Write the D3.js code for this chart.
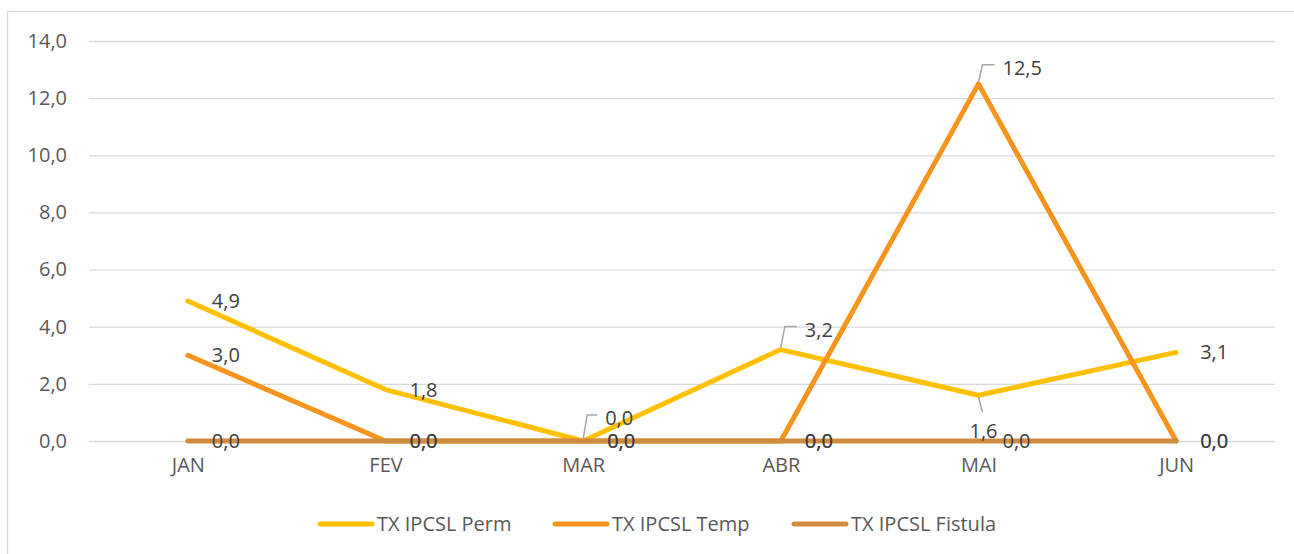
<!DOCTYPE html>
<html>
<head>
<meta charset="utf-8">
<script src="https://cdn.jsdelivr.net/npm/d3@7"></script>
<style>
  body { margin: 0; background: #fff; }
  svg text { font-family: "Open Sans", "Lato", sans-serif; }
</style>
</head>
<body>
<div id="chart"></div>
<script>
"use strict";

var months      = ["JAN", "FEV", "MAR", "ABR", "MAI", "JUN"];
var yTicks      = [0, 2, 4, 6, 8, 10, 12, 14];
var seriesNames = ["TX IPCSL Perm", "TX IPCSL Temp", "TX IPCSL Fistula"];
var permValues  = [4.9, 1.8, 0.0, 3.2, 1.6, 3.1];
var tempValues  = [3.0, 0.0, 0.0, 0.0, 12.5, 0.0];
var fistValues  = [0.0, 0.0, 0.0, 0.0, 0.0, 0.0];

var width  = 1294;
var height = 554;
var colors = ["#FFC000", "#F7941D", "#D08B3E"];
var fontSize = "20px";

// label placement tweaks (label moved away from point, with leader line)
var labelMoves = {
  "0-2": { dx: 22, dy: -23, leader: true },
  "0-3": { dx: 24, dy: -20, leader: true },
  "0-4": { dx: -9, dy: 36, leader: true, below: true },
  "1-4": { dx: 24, dy: -16, leader: true }
};

var fmt = function(v) { return v.toFixed(1).replace(".", ","); };

var svg = d3.select("#chart").append("svg")
  .attr("width", width)
  .attr("height", height);

// chart border
svg.append("rect")
  .attr("x", 7.5).attr("y", 11.5)
  .attr("width", width + 10).attr("height", height + 10)
  .attr("fill", "none")
  .attr("stroke", "#d9d9d9")
  .attr("stroke-width", 1.3);

var x = d3.scalePoint()
  .domain(months)
  .range([89, 1275])
  .padding(0.5);

var y = d3.scaleLinear()
  .domain([0, 14])
  .range([441, 41]);

// gridlines
svg.append("g")
  .attr("class", "grid")
  .attr("transform", "translate(89,0)")
  .call(d3.axisLeft(y).tickValues(yTicks).tickSize(-(1275 - 89)).tickFormat(""))
  .call(function(g) {
    g.select(".domain").remove();
    g.selectAll("line").attr("stroke", "#d9d9d9").attr("stroke-width", 1.3);
  });

// y axis labels
svg.append("g")
  .attr("transform", "translate(67,0)")
  .call(d3.axisLeft(y).tickValues(yTicks).tickSize(0).tickPadding(0).tickFormat(fmt))
  .call(function(g) {
    g.select(".domain").remove();
    g.selectAll("text")
      .attr("fill", "#595959")
      .style("font-size", fontSize);
  });

// x axis labels
svg.append("g")
  .attr("transform", "translate(0,458)")
  .call(d3.axisBottom(x).tickSize(0).tickPadding(0))
  .call(function(g) {
    g.select(".domain").remove();
    g.selectAll("text")
      .attr("fill", "#595959")
      .attr("dy", "0.72em")
      .style("font-size", fontSize);
  });

var series = [permValues, tempValues, fistValues].map(function(vals, i) {
  return { name: seriesNames[i], color: colors[i], values: vals };
});

var line = d3.line()
  .x(function(d, i) { return x(months[i]); })
  .y(function(d) { return y(d); });

svg.append("g").selectAll("path")
  .data(series)
  .enter().append("path")
  .attr("d", function(s) { return line(s.values); })
  .attr("fill", "none")
  .attr("stroke", function(s) { return s.color; })
  .attr("stroke-width", 5)
  .attr("stroke-linecap", "round")
  .attr("stroke-linejoin", "round");

// data labels
var labels = [];
series.forEach(function(s, si) {
  s.values.forEach(function(v, i) {
    var mv = labelMoves[si + "-" + i];
    labels.push({
      v: v,
      px: x(months[i]),
      py: y(v),
      dx: mv ? mv.dx : 24,
      dy: mv ? mv.dy : 0,
      mv: mv
    });
  });
});

var labelG = svg.append("g");

labelG.selectAll("polyline")
  .data(labels.filter(function(d) { return d.mv && d.mv.leader; }))
  .enter().append("polyline")
  .attr("points", function(d) {
    if (d.mv.below) {
      return [[d.px, d.py + 2], [d.px + 4, d.py + 17]].join(" ");
    }
    var ty = d.py + d.dy - 3;
    return [[d.px, d.py - 2], [d.px + 4, ty], [d.px + d.dx - 8, ty]].join(" ");
  })
  .attr("fill", "none")
  .attr("stroke", "#a6a6a6")
  .attr("stroke-width", 1.5);

labelG.selectAll("text")
  .data(labels)
  .enter().append("text")
  .attr("x", function(d) { return d.px + d.dx; })
  .attr("y", function(d) { return d.py + d.dy; })
  .attr("dy", "0.35em")
  .attr("fill", "#404040")
  .style("font-size", fontSize)
  .text(function(d) { return fmt(d.v); });

// legend
var legendX = [320, 555, 794];
var legend = svg.append("g").selectAll("g")
  .data(series)
  .enter().append("g")
  .attr("transform", function(d, i) { return "translate(" + legendX[i] + ",524)"; });

legend.append("line")
  .attr("x1", 0).attr("x2", 52)
  .attr("stroke", function(d) { return d.color; })
  .attr("stroke-width", 5)
  .attr("stroke-linecap", "round");

legend.append("text")
  .attr("x", 57)
  .attr("dy", "0.35em")
  .attr("fill", "#595959")
  .style("font-size", fontSize)
  .text(function(d) { return d.name; });
</script>
</body>
</html>
